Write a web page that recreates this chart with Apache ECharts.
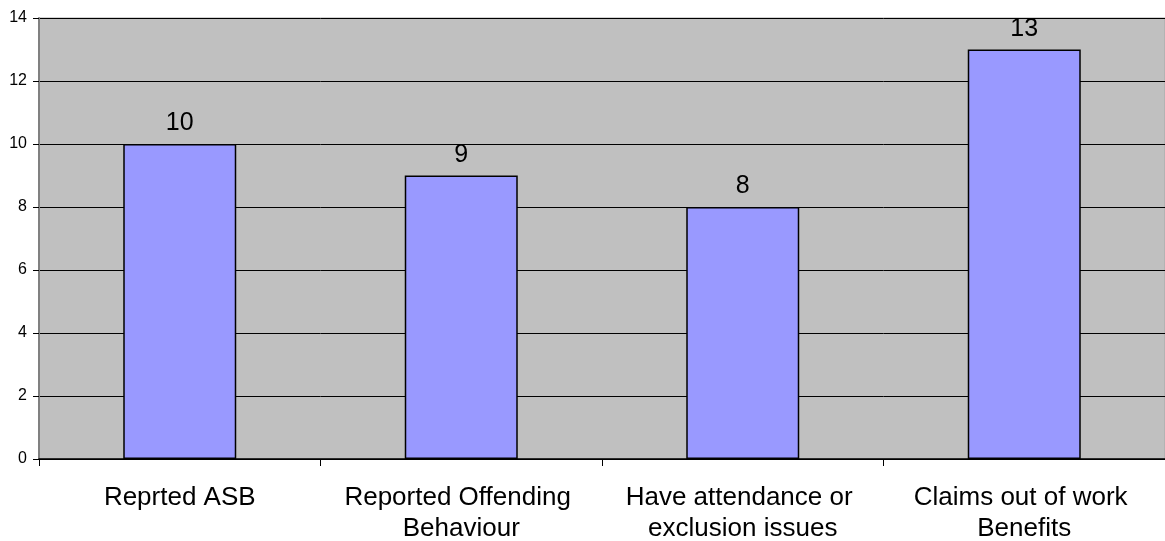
<!DOCTYPE html>
<html>
<head>
<meta charset="utf-8">
<script src="https://cdn.jsdelivr.net/npm/echarts@6/dist/echarts.min.js"></script>
<style>html,body{margin:0;padding:0;background:#fff;}#c{width:1165px;height:541px;}</style>
</head>
<body>
<div id="c"></div>
<script>
const categories = ["Reprted ASB", "Reported Offending Behaviour", "Have attendance or exclusion issues", "Claims out of work Benefits"];
const values = [10, 9, 8, 13];
const yTicks = [0, 2, 4, 6, 8, 10, 12, 14];

const chart = echarts.init(document.getElementById('c'));
chart.setOption({
  animation: false,
  grid: {
    left: 39, right: 0, top: 18, bottom: 82,
    containLabel: false, outerBoundsMode: 'none',
    show: true, backgroundColor: '#C0C0C0', borderColor: '#A6A6A6', borderWidth: 1
  },
  xAxis: {
    type: 'category',
    data: categories,
    axisLine: { show: true, lineStyle: { color: '#000', width: 1.5 } },
    axisTick: { show: true, length: 7, lineStyle: { color: '#000' } },
    axisLabel: {
      color: '#000', fontSize: 26, fontFamily: 'Liberation Sans, Arial, sans-serif',
      margin: 23, lineHeight: 31, width: 265, overflow: 'break', interval: 0
    }
  },
  yAxis: {
    type: 'value',
    min: yTicks[0], max: yTicks[yTicks.length - 1], interval: 2,
    axisLine: { show: true, lineStyle: { color: '#808080', width: 2 } },
    axisTick: { show: true, length: 6, lineStyle: { color: '#000' } },
    axisLabel: { color: '#000', fontSize: 16, fontFamily: 'Liberation Sans, Arial, sans-serif', margin: 12 },
    splitLine: { show: true, lineStyle: { color: '#000', width: 1 } }
  },
  series: [{
    type: 'bar',
    data: values,
    barWidth: 113,
    itemStyle: { color: '#9999FF', borderColor: '#000', borderWidth: 1.5 },
    label: {
      show: true, position: 'top', distance: 8,
      color: '#000', fontSize: 25, fontFamily: 'Liberation Sans, Arial, sans-serif'
    }
  }]
});
</script>
</body>
</html>
